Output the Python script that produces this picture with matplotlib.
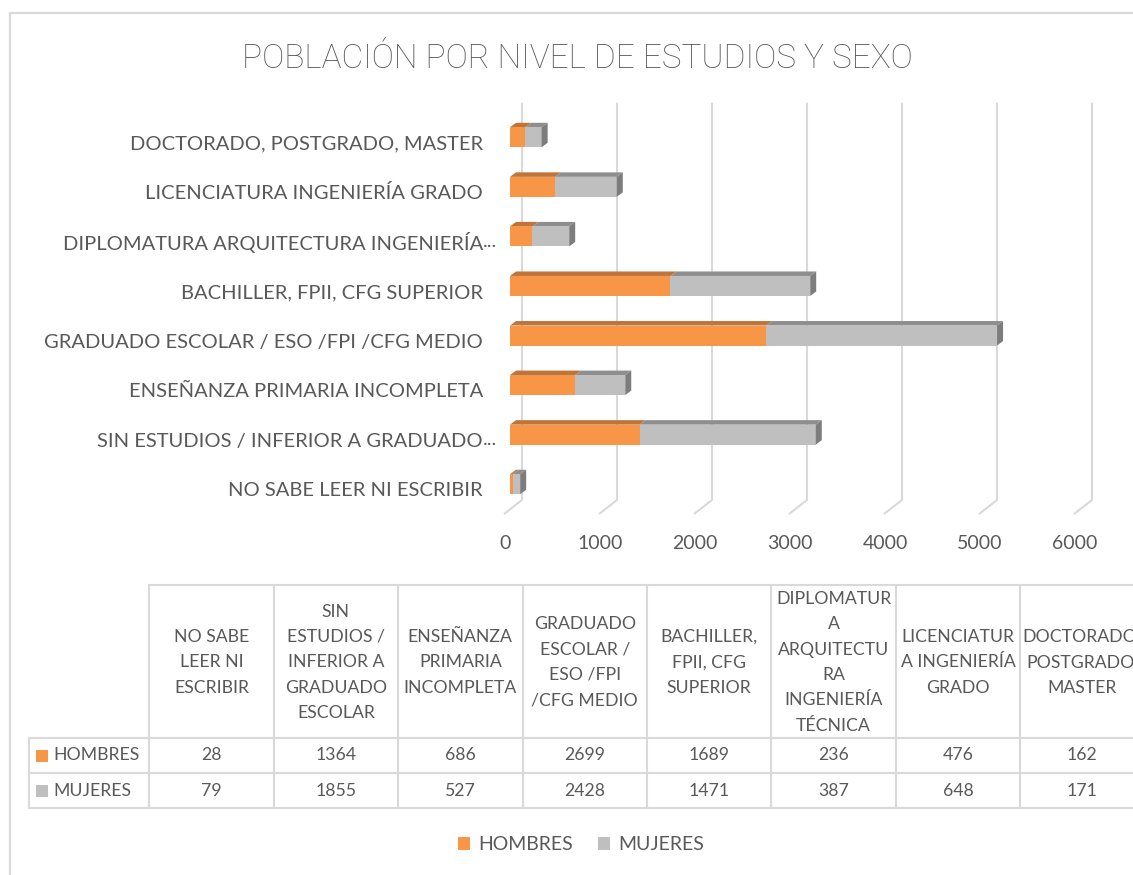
import matplotlib
matplotlib.use("Agg")
import matplotlib.pyplot as plt
from matplotlib.patches import Polygon, Rectangle
from matplotlib.transforms import ScaledTranslation

# ---------------------------------------------------------------- data
categories = [
    "NO SABE LEER NI ESCRIBIR",
    "SIN ESTUDIOS / INFERIOR A GRADUADO ESCOLAR",
    "ENSEÑANZA PRIMARIA INCOMPLETA",
    "GRADUADO ESCOLAR / ESO /FPI /CFG MEDIO",
    "BACHILLER, FPII, CFG SUPERIOR",
    "DIPLOMATURA ARQUITECTURA INGENIERÍA TÉCNICA",
    "LICENCIATURA INGENIERÍA GRADO",
    "DOCTORADO, POSTGRADO, MASTER",
]
axis_labels = [
    "NO SABE LEER NI ESCRIBIR",
    "SIN ESTUDIOS / INFERIOR A GRADUADO...",
    "ENSEÑANZA PRIMARIA INCOMPLETA",
    "GRADUADO ESCOLAR / ESO /FPI /CFG MEDIO",
    "BACHILLER, FPII, CFG SUPERIOR",
    "DIPLOMATURA ARQUITECTURA INGENIERÍA...",
    "LICENCIATURA INGENIERÍA GRADO",
    "DOCTORADO, POSTGRADO, MASTER",
]
table_headers = [
    "NO SABE\nLEER NI\nESCRIBIR",
    "SIN\nESTUDIOS /\nINFERIOR A\nGRADUADO\nESCOLAR",
    "ENSEÑANZA\nPRIMARIA\nINCOMPLETA",
    "GRADUADO\nESCOLAR /\nESO /FPI\n/CFG MEDIO",
    "BACHILLER,\nFPII, CFG\nSUPERIOR",
    "DIPLOMATUR\nA\nARQUITECTU\nRA\nINGENIERÍA\nTÉCNICA",
    "LICENCIATUR\nA INGENIERÍA\nGRADO",
    "DOCTORADO,\nPOSTGRADO,\nMASTER",
]
series_names = ["HOMBRES", "MUJERES"]
hombres = [28, 1364, 686, 2699, 1689, 236, 476, 162]
mujeres = [79, 1855, 527, 2428, 1471, 387, 648, 171]
x_ticks = [0, 1000, 2000, 3000, 4000, 5000, 6000]
title = "POBLACIÓN POR NIVEL DE ESTUDIOS Y SEXO"

# ---------------------------------------------------------------- style
FONT = "Lato"
TXT = "#595959"
GRID = "#D9D9D9"
ORANGE, ORANGE_TOP = "#F79646", "#BF7439"
GRAY, GRAY_TOP, SIDE = "#BFBFBF", "#8E8E8E", "#7D7D7D"

W, H, DPI = 1133, 875, 100
plt.rcParams["font.family"] = [FONT, "DejaVu Sans"]

fig = plt.figure(figsize=(W / DPI, H / DPI), dpi=DPI)
fig.patch.set_facecolor("white")

# full-figure canvas in pixel units for frame, title and data table
cv = fig.add_axes([0, 0, 1, 1], zorder=0)
cv.set_xlim(0, W)
cv.set_ylim(H, 0)
cv.axis("off")

# chart frame (left and top edges)
cv.plot([9.5, 9.5, W + 5], [H + 5, 12.5, 12.5], color=GRID, lw=1.6,
        solid_joinstyle="miter", clip_on=False)

cv.text(577, 55, title, ha="center", va="center_baseline", fontsize=24,
        color=TXT, fontweight="light", family=["Roboto", "DejaVu Sans"])

# ---------------------------------------------------------------- bar chart
n = len(categories)
ax_left, ax_right = 510, 1080
ax_top, ax_bot = 112.5, 509.0
ax = fig.add_axes([ax_left / W, 1 - ax_bot / H,
                   (ax_right - ax_left) / W, (ax_bot - ax_top) / H], zorder=1)
ax.patch.set_alpha(0)
xmax = x_ticks[-1]
ax.set_xlim(0, xmax)
ax.set_ylim(-0.5, n - 0.5)
for s in ax.spines.values():
    s.set_visible(False)

ux = xmax / (ax_right - ax_left)      # data units per pixel (x)
uy = n / (ax_bot - ax_top)            # data units per pixel (y)


def ypix(p):
    return -0.5 + (ax_bot - p) * uy


# back-wall gridlines with slanted floor foot
for t in x_ticks:
    xb = t + 12 * ux
    ax.plot([xb, xb, t - 6 * ux], [ypix(102.7), ypix(500), ypix(514)],
            color=GRID, lw=1.5, clip_on=False, zorder=1,
            solid_capstyle="butt")

ypos = list(range(n))
bar_h = 20 * uy
dx, dy = 6 * ux, 4.5 * uy
ax.barh(ypos, hombres, height=bar_h, color=ORANGE, zorder=3, lw=0)
ax.barh(ypos, mujeres, left=hombres, height=bar_h, color=GRAY, zorder=3, lw=0)

for y, h, m in zip(ypos, hombres, mujeres):
    yt, yb = y + bar_h / 2, y - bar_h / 2
    total = h + m
    for x0, x1, c in ((0, h, ORANGE_TOP), (h, total, GRAY_TOP)):
        ax.add_patch(Polygon([(x0, yt), (x1, yt), (x1 + dx, yt + dy),
                              (x0 + dx, yt + dy)], closed=True, fc=c,
                             lw=0, zorder=2.9, clip_on=False))
    ax.add_patch(Polygon([(total, yb), (total, yt), (total + dx, yt + dy),
                          (total + dx, yb + dy)], closed=True, fc=SIDE,
                         lw=0, zorder=3.1, clip_on=False))

# x tick labels sitting at the front edge of the floor
ax.set_xticks(x_ticks)
ax.set_xticklabels([str(t) for t in x_ticks])
ax.tick_params(axis="x", length=0, pad=19, labelsize=14, labelcolor=TXT)
for lab in ax.get_xticklabels():
    lab.set_transform(lab.get_transform() +
                      ScaledTranslation(-5 / DPI, 0, fig.dpi_scale_trans))

# category labels (truncated ones keep their dots past the alignment edge)
base_labels = [l[:-3] if l.endswith("...") else l for l in axis_labels]
ax.set_yticks(ypos)
ax.set_yticklabels(base_labels)
ax.tick_params(axis="y", length=0, pad=27 * 0.72, labelsize=14.5,
               labelcolor=TXT)
for lab in ax.get_yticklabels():
    lab.set_transform(lab.get_transform() +
                      ScaledTranslation(0, -5 / DPI, fig.dpi_scale_trans))
for y, l in zip(ypos, axis_labels):
    if l.endswith("..."):
        ax.annotate("...", xy=(0, y), xycoords=("axes fraction", "data"),
                    xytext=(-27 * 0.72, -5 * 0.72), textcoords="offset points",
                    ha="left", va="center", fontsize=14.5, color=TXT)

# ---------------------------------------------------------------- data table
col_x0, col_w = 149.3, 124.4
row_label_x0 = 28.7
y_head, y_r1, y_r2, y_r3 = 584.5, 738.0, 773.0, 808.0
lw_t = 1.5
cv.plot([col_x0, W + 5], [y_head, y_head], color=GRID, lw=lw_t, clip_on=False)
for yy in (y_r1, y_r2, y_r3):
    cv.plot([row_label_x0, W + 5], [yy, yy], color=GRID, lw=lw_t, clip_on=False)
cv.plot([row_label_x0, row_label_x0], [y_r1, y_r3], color=GRID, lw=lw_t)
for k in range(n + 1):
    xx = col_x0 + k * col_w
    cv.plot([xx, xx], [y_head, y_r3], color=GRID, lw=lw_t, clip_on=False)

for k, head in enumerate(table_headers):
    xc = col_x0 + (k + 0.5) * col_w
    cv.text(xc, (y_head + y_r1) / 2 + 1, head, ha="center", va="center",
            fontsize=12.7, color=TXT, linespacing=1.72, clip_on=False)
    cv.text(xc, (y_r1 + y_r2) / 2, str(hombres[k]), ha="center",
            va="center", fontsize=12.7, color=TXT)
    cv.text(xc, (y_r2 + y_r3) / 2, str(mujeres[k]), ha="center",
            va="center", fontsize=12.7, color=TXT)

for (ya, yb2), name, c in zip(((y_r1, y_r2), (y_r2, y_r3)), series_names,
                              (ORANGE, GRAY)):
    yc = (ya + yb2) / 2
    cv.add_patch(Rectangle((36.4, yc - 6), 11.4, 12, fc=c, lw=0))
    cv.text(53.5, yc, name, ha="left", va="center", fontsize=12.7, color=TXT)

# ---------------------------------------------------------------- legend
handles = [Rectangle((0, 0), 1, 1, fc=ORANGE, lw=0),
           Rectangle((0, 0), 1, 1, fc=GRAY, lw=0)]
fig.legend(handles, series_names, loc="center",
           bbox_to_anchor=(581 / W, 1 - 845 / H), ncol=2, frameon=False,
           fontsize=14, labelcolor=TXT, handlelength=0.62, handleheight=0.62,
           handletextpad=0.4, columnspacing=1.3)

fig.savefig("out.png", dpi=DPI, facecolor="white")
